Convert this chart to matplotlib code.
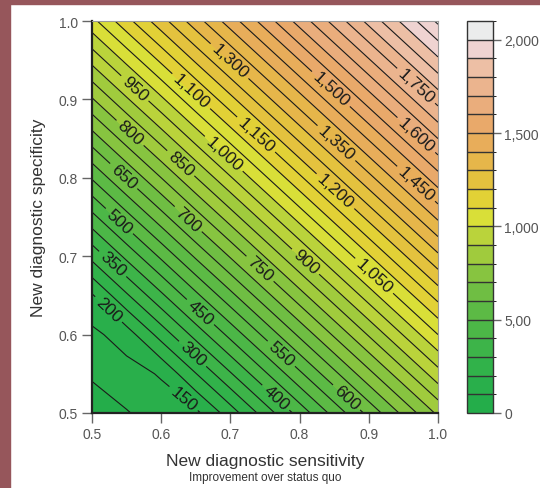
import matplotlib.pyplot as plt
import matplotlib.colors as mcolors
from matplotlib.patches import Rectangle
import numpy as np

# grid of the surface
sens = [0.5, 0.55, 0.6, 0.65, 0.7, 0.8, 0.9, 1.0]
spec = [0.5, 0.55, 0.6, 0.65, 0.7, 0.8, 0.9, 1.0]
value = [
    [75, 97, 122, 138, 225, 420, 615, 810],
    [106, 129, 155, 248, 345, 540, 735, 930],
    [137, 175, 270, 368, 465, 660, 855, 1050],
    [195, 293, 390, 488, 585, 780, 975, 1170],
    [315, 413, 510, 608, 705, 900, 1095, 1290],
    [555, 653, 750, 848, 945, 1140, 1335, 1530],
    [795, 893, 990, 1088, 1185, 1380, 1575, 1770],
    [1035, 1133, 1230, 1328, 1425, 1620, 1815, 2010],
]

fill_levels = list(range(0, 2101, 100))
line_levels = list(range(50, 2051, 50))
label_levels = [150, 200, 300, 350, 400, 450, 500, 550, 600, 650, 700, 750, 800, 850,
                900, 950, 1000, 1050, 1100, 1150, 1200, 1300, 1350, 1450, 1500, 1600, 1750]
label_pos = [(.632, .518), (.526, .634), (.647, .577), (.535, .695), (.764, .518),
             (.659, .631), (.545, .750), (.775, .577), (.868, .520), (.553, .809),
             (.645, .753), (.746, .687), (.562, .864), (.634, .824), (.819, .703),
             (.566, .918), (.697, .837), (.913, .680), (.646, .913), (.738, .856),
             (.855, .786), (.702, .952), (.855, .846), (.968, .792), (.845, .913),
             (.967, .853), (.967, .916)]

band_colors = ['#24ad4a', '#29af4b', '#31b24a', '#3db449', '#4cb747', '#5cba45',
               '#6fbe43', '#87c440', '#a0cb3d', '#bad33b', '#d9df38', '#e2d136',
               '#e4c23e', '#e6b64a', '#e8ad5a', '#e9a96a', '#eaad7c', '#ebb48e',
               '#edbfa5', '#efd3d1', '#ebecec']

cmap = mcolors.ListedColormap(band_colors)
norm = mcolors.BoundaryNorm(fill_levels, cmap.N)

plt.rcParams['font.family'] = ['Liberation Sans', 'DejaVu Sans']
fig = plt.figure(figsize=(5.4, 4.89), dpi=100)
fig.patches.append(Rectangle((0, 0), 10 / 540, 1, transform=fig.transFigure,
                             color='#96565b', zorder=-1))
fig.patches.append(Rectangle((0, 1 - 5 / 489), 1, 5 / 489, transform=fig.transFigure,
                             color='#96565b', zorder=-1))

ax = fig.add_axes([92 / 540, 1 - 414 / 489, 346 / 540, 392 / 489])
X, Y = np.meshgrid(sens, spec)
Z = np.array(value)
cf = ax.contourf(X, Y, Z, levels=fill_levels, cmap=cmap, norm=norm)
plain_levels = [v for v in line_levels if v not in label_levels]
ax.contour(X, Y, Z, levels=plain_levels, colors='#1a1a1a', linewidths=0.8)
# one contour set per labelled level so each label sits on its own line
for lev, pos in zip(label_levels, label_pos):
    cs = ax.contour(X, Y, Z, levels=[lev], colors='#1a1a1a', linewidths=0.8)
    ax.clabel(cs, manual=[pos], inline=True, fontsize=12.5,
              fmt=lambda v: f'{v:,.0f}', colors='#1a1a1a', inline_spacing=4)

ax.set_xlim(0.5, 1.0)
ax.set_ylim(0.5, 1.0)
ax.set_xticks([0.5, 0.6, 0.7, 0.8, 0.9, 1.0])
ax.set_yticks([0.5, 0.6, 0.7, 0.8, 0.9, 1.0])
ax.tick_params(direction='out', length=7, width=1, color='#666666',
               labelcolor='#555555', labelsize=10, pad=3)
for side in ['left', 'bottom']:
    ax.spines[side].set_color('#222222')
    ax.spines[side].set_linewidth(1.6)
for side in ['top', 'right']:
    ax.spines[side].set_color('#999999')
    ax.spines[side].set_linewidth(0.8)

ax.set_ylabel('New diagnostic specificity', fontsize=12.5, color='#333333', labelpad=9)
fig.text(265 / 540, 1 - 462 / 489, 'New diagnostic sensitivity', ha='center',
         va='center', fontsize=12.5, color='#333333')
fig.text(265 / 540, 1 - 478 / 489, 'Improvement over status quo', ha='center',
         va='center', fontsize=8.5, color='#333333')

cax = fig.add_axes([467 / 540, 1 - 414 / 489, 26 / 540, 392 / 489])
cb = fig.colorbar(cf, cax=cax, drawedges=True)
cb.outline.set_edgecolor('#333333')
cb.outline.set_linewidth(1)
cb.dividers.set_color('#333333')
cb.dividers.set_linewidth(1)
cb.set_ticks([0, 500, 1000, 1500, 2000])
cb.set_ticklabels(['0', '5,00', '1,000', '1,500', '2,000'])
cax.tick_params(direction='out', length=6, width=1, color='#666666',
                labelcolor='#555555', labelsize=10, pad=2)

fig.savefig('out.png', dpi=100)
